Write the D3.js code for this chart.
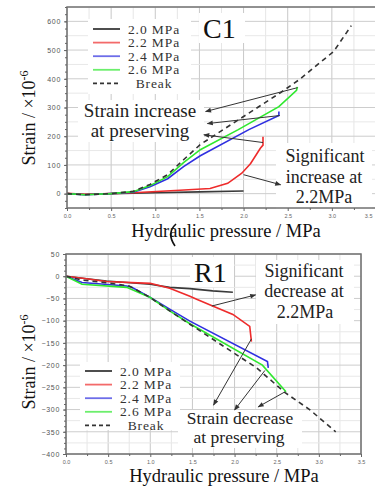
<!DOCTYPE html>
<html>
<head>
<meta charset="utf-8">
<script src="https://cdn.jsdelivr.net/npm/d3@7"></script>
<style>
  html, body { margin: 0; padding: 0; background: #fff; }
  svg { display: block; }
</style>
</head>
<body>
<svg id="chart"></svg>
<script>
// ---- data (pressure MPa, strain x1e-6) ----
const seriesNames = ["2.0 MPa", "2.2 MPa", "2.4 MPa", "2.6 MPa", "Break"];
const seriesColors = ["#3a3a3a", "#ee2b2b", "#2f2fe0", "#2ee82e", "#333"];

// C1 (top panel)
const c1_20 = [[0,0],[0.2,-3],[0.5,0],[1.0,3],[1.5,6],[2.0,9]];
const c1_22 = [[0,1],[0.2,-2],[0.5,0],[0.75,3],[1.28,12],[1.62,18],[1.82,36],[1.98,71],[2.08,105],[2.19,158],[2.22,169],[2.22,198]];
const c1_24 = [[0,0],[0.2,-4],[0.5,0],[0.75,5],[0.94,24],[1.14,52],[1.32,94],[1.51,132],[2.06,223],[2.4,272],[2.4,286]];
const c1_26 = [[0,0],[0.2,-4],[0.5,0],[0.75,7],[0.94,28],[1.14,59],[1.32,108],[1.51,153],[1.94,223],[2.4,303],[2.6,360],[2.61,372]];
const c1_break = [[0,0],[0.2,-4],[0.5,0],[0.75,8],[0.94,32],[1.14,66],[1.32,118],[1.51,171],[1.77,223],[2.42,352],[2.63,397],[3.02,495],[3.22,585]];

// R1 (bottom panel)
const r1_20 = [[0,0],[0.22,-5],[0.48,-11],[0.72,-14],[1.0,-18],[1.23,-25],[1.47,-28],[1.74,-33],[1.98,-36]];
const r1_22 = [[0,0],[0.22,-5],[0.48,-12],[1.0,-16],[1.23,-27],[1.47,-45],[1.55,-52],[1.74,-67],[1.98,-86],[2.18,-113],[2.2,-147]];
const r1_24 = [[0,0],[0.19,-14],[0.72,-22],[0.78,-25],[1.0,-48],[1.23,-74],[1.47,-101],[2.39,-192],[2.4,-206]];
const r1_26 = [[0,0],[0.19,-18],[0.72,-25],[1.0,-48],[1.23,-78],[1.47,-107],[2.33,-200],[2.61,-260]];
const r1_break = [[0,0],[0.2,-9],[0.5,-15],[0.75,-22],[1.0,-48],[1.23,-78],[1.47,-108],[2.26,-206],[2.6,-262],[2.89,-300],[3.2,-350]];

// tick labels
const xTicks = [0, 0.5, 1.0, 1.5, 2.0, 2.5, 3.0, 3.5];
const c1_yTicks = [0, 100, 200, 300, 400, 500, 600];
const r1_yTicks = [50, 0, -50, -100, -150, -200, -250, -300, -350, -400];

// annotation arrows [from, to] in data units
const c1_arrows = [[[2.61,369],[1.57,286]], [[2.41,272],[1.59,244]], [[2.22,178],[1.55,205]], [[2.0,66],[2.42,31]]];
const r1_arrows = [[[1.73,-67],[2.25,-42]], [[2.2,-141],[1.75,-290]], [[2.36,-212],[2.0,-301]], [[2.59,-261],[2.28,-294]]];

const W = 375, H = 487;
const serif = "'Liberation Serif', 'Times New Roman', serif";
const sans = "'Liberation Sans', Arial, sans-serif";

const svg = d3.select("#chart").attr("width", W).attr("height", H);

svg.append("defs").append("marker")
    .attr("id", "arr")
    .attr("viewBox", "0 0 10 10")
    .attr("refX", 9).attr("refY", 5)
    .attr("markerWidth", 7).attr("markerHeight", 6)
    .attr("markerUnits", "userSpaceOnUse")
    .attr("orient", "auto")
  .append("path")
    .attr("d", "M0,1 L10,5 L0,9 Z")
    .attr("fill", "#333");

function drawPanel(cfg) {
    const x = d3.scaleLinear().domain([0, 3.5]).range(cfg.xr);
    const y = d3.scaleLinear().domain(cfg.yd).range(cfg.yr);
    const g = svg.append("g");

    // grid
    const xs = d3.range(0, 3.5001, 0.25);
    g.append("g").selectAll("line").data(xs).enter().append("line")
        .attr("x1", d => x(d)).attr("x2", d => x(d))
        .attr("y1", y.range()[0]).attr("y2", y.range()[1])
        .attr("stroke", (d, i) => i % 2 === 0 ? "#c8c8c8" : "#e6e6e6")
        .attr("stroke-width", 1);
    const ys = d3.range(cfg.yd[0], cfg.yd[1] + 0.001, cfg.minor);
    g.append("g").selectAll("line").data(ys).enter().append("line")
        .attr("x1", x.range()[0]).attr("x2", x.range()[1])
        .attr("y1", d => y(d)).attr("y2", d => y(d))
        .attr("stroke", d => Math.abs(d % cfg.major) < 1e-6 ? "#cdcdcd" : "#e8e8e8")
        .attr("stroke-width", 1);

    // white boxes behind labels
    cfg.boxes.forEach(b => {
        g.append("rect").attr("x", b[0]).attr("y", b[1]).attr("width", b[2]).attr("height", b[3]).attr("fill", "#fff");
    });

    // series
    const line = d3.line().x(d => x(d[0])).y(d => y(d[1]));
    cfg.series.forEach((s, i) => {
        g.append("path")
            .datum(s)
            .attr("d", line)
            .attr("fill", "none")
            .attr("stroke", seriesColors[i])
            .attr("stroke-width", 1.6)
            .attr("stroke-dasharray", i === 4 ? "5,4" : null);
    });

    // frame
    g.append("rect")
        .attr("x", x.range()[0]).attr("y", y.range()[1])
        .attr("width", x.range()[1] - x.range()[0])
        .attr("height", y.range()[0] - y.range()[1])
        .attr("fill", "none").attr("stroke", "#707070").attr("stroke-width", 1.5);

    // axes
    const ax = g.append("g").attr("transform", "translate(0," + y.range()[0] + ")")
        .call(d3.axisBottom(x).tickValues(xTicks).tickSize(3).tickPadding(3).tickFormat(d3.format(".1f")));
    g.append("g").attr("transform", "translate(0," + y.range()[0] + ")")
        .call(d3.axisBottom(x).tickValues(d3.range(0.25, 3.5, 0.5)).tickSize(2).tickFormat(""));
    const ay = g.append("g").attr("transform", "translate(" + x.range()[0] + ",0)")
        .call(d3.axisLeft(y).tickValues(cfg.yTicks).tickSize(3).tickPadding(3).tickFormat(d3.format("d")));
    g.append("g").attr("transform", "translate(" + x.range()[0] + ",0)")
        .call(d3.axisLeft(y).tickValues(d3.range(cfg.yd[0], cfg.yd[1] + 0.001, cfg.major / 4)).tickSize(2).tickFormat(""));
    g.selectAll(".domain").remove();
    g.selectAll(".tick line").attr("stroke", "#666");
    ax.selectAll("text").attr("font-family", sans).attr("font-size", 5.5).attr("fill", "#666");
    // last label sits on the page edge in the top panel; keep it inside
    if (cfg.xr[1] > W - 4) ax.selectAll("text").filter(d => d === 3.5).attr("text-anchor", "end").attr("dx", -4);
    ay.selectAll("text").attr("font-family", sans).attr("font-size", 7).attr("fill", "#555")
        .attr("letter-spacing", 0.7);

    // legend
    const leg = g.append("g");
    seriesNames.forEach((n, i) => {
        const ly = cfg.leg[1] + i * 13.6;
        leg.append("line")
            .attr("x1", cfg.leg[0]).attr("x2", cfg.leg[0] + 27)
            .attr("y1", ly).attr("y2", ly)
            .attr("stroke", seriesColors[i]).attr("stroke-width", 1.8)
            .attr("stroke-opacity", i === 0 || i === 4 ? 1 : 0.7)
            .attr("stroke-dasharray", i === 4 ? "4,3" : null);
        leg.append("text")
            .attr("x", cfg.leg[0] + 61).attr("y", ly + 4.5)
            .attr("text-anchor", "middle")
            .attr("font-family", serif).attr("font-size", 13.5).attr("fill", "#333")
            .attr("letter-spacing", 0.9)
            .text(n);
    });

    // panel name
    g.append("text").attr("x", cfg.name[0]).attr("y", cfg.name[1])
        .attr("font-family", serif).attr("font-size", 28).attr("fill", "#111")
        .text(cfg.name[2]);

    // annotation texts
    cfg.notes.forEach(t => {
        g.append("text").attr("x", t[0]).attr("y", t[1])
            .attr("text-anchor", "middle")
            .attr("font-family", serif).attr("font-size", t[3]).attr("fill", "#222")
            .text(t[2]);
    });

    // arrows
    cfg.arrows.forEach(a => {
        g.append("line")
            .attr("x1", x(a[0][0])).attr("y1", y(a[0][1]))
            .attr("x2", x(a[1][0])).attr("y2", y(a[1][1]))
            .attr("stroke", "#333").attr("stroke-width", 1)
            .attr("marker-end", "url(#arr)");
    });

    // axis titles
    g.append("text").attr("x", cfg.xt[0]).attr("y", cfg.xt[1])
        .attr("text-anchor", "middle")
        .attr("font-family", serif).attr("font-size", 18.5).attr("fill", "#111")
        .text("Hydraulic pressure / MPa");
    const yt = g.append("text")
        .attr("transform", "translate(" + cfg.yt[0] + "," + cfg.yt[1] + ")rotate(-90)")
        .attr("text-anchor", "middle")
        .attr("font-family", serif).attr("font-size", 18).attr("fill", "#111");
    yt.append("tspan").text("Strain / \u00d710");
    yt.append("tspan").attr("dy", -7).attr("font-size", 12).text("-6");
}

drawPanel({
    xr: [67, 376], yd: [-50, 650], yr: [208, 7], major: 100, minor: 50,
    yTicks: c1_yTicks,
    series: [c1_20, c1_22, c1_24, c1_26, c1_break],
    boxes: [[88, 19, 103, 75], [199, 13, 46, 30], [78, 100, 126, 42], [276, 143, 96, 66]],
    leg: [93, 29],
    name: [203, 38, "C1"],
    notes: [[140, 117, "Strain increase", 19], [140, 137, "at preserving", 19],
            [325, 162, "Significant", 18], [324, 183, "increase at", 18], [324, 203, "2.2MPa", 18]],
    arrows: c1_arrows,
    xt: [226, 237], yt: [35, 118]
});

drawPanel({
    xr: [66, 361], yd: [-400, 50], yr: [454, 254], major: 50, minor: 25,
    yTicks: r1_yTicks,
    series: [r1_20, r1_22, r1_24, r1_26, r1_break],
    boxes: [[80, 362, 100, 68], [190, 257, 44, 30], [256, 260, 98, 64], [178, 410, 124, 38]],
    leg: [85, 371],
    name: [194, 282, "R1"],
    notes: [[304, 277, "Significant", 18], [304, 297, "decrease  at", 18], [305, 318, "2.2MPa", 18],
            [240, 424, "Strain decrease", 17.5], [239, 443, "at preserving", 17.5]],
    arrows: r1_arrows,
    xt: [224, 482], yt: [35, 362]
});

// stray bracket-shaped stroke near the top x-axis title (scan artefact in the original)
svg.append("path")
    .attr("d", "M176,224 Q166,233 175,246")
    .attr("fill", "none").attr("stroke", "#111").attr("stroke-width", 1.6);
</script>
</body>
</html>
